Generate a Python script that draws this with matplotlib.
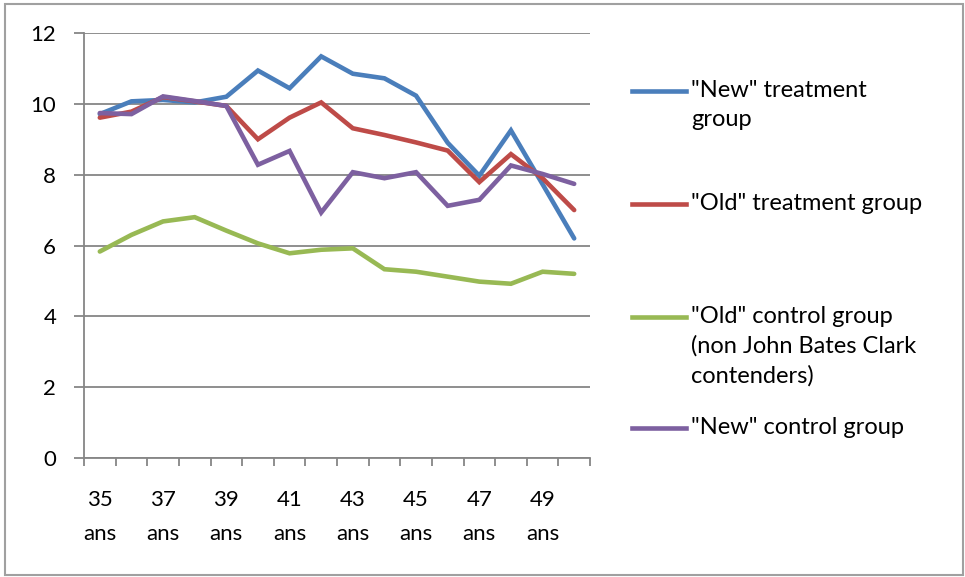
import matplotlib
matplotlib.use("Agg")
import matplotlib.pyplot as plt
from matplotlib.lines import Line2D
from matplotlib.patches import Rectangle
import numpy as np

plt.rcParams['font.family'] = ['Lato', 'DejaVu Sans']

ages = list(range(35, 51))
age_labels = ["%d\nans" % a for a in ages[::2]]

new_treatment = [9.71, 10.07, 10.11, 10.04, 10.2, 10.94, 10.44, 11.34,
                 10.85, 10.72, 10.23, 8.9, 7.97, 9.25, 7.73, 6.2]
old_treatment = [9.61, 9.78, 10.19, 10.07, 9.94, 9.0, 9.61, 10.04,
                 9.31, 9.12, 8.91, 8.68, 7.79, 8.58, 7.9, 7.0]
old_control = [5.83, 6.3, 6.68, 6.8, 6.42, 6.06, 5.78, 5.88,
               5.92, 5.33, 5.26, 5.12, 4.98, 4.92, 5.26, 5.2]
new_control = [9.74, 9.71, 10.21, 10.08, 9.94, 8.28, 8.67, 6.93,
               8.07, 7.9, 8.07, 7.12, 7.29, 8.26, 8.02, 7.74]

names = ['"New" treatment\ngroup',
         '"Old" treatment group',
         '"Old" control group\n(non John Bates Clark\ncontenders)',
         '"New" control group']
colors = ['#4a7ebb', '#be4b48', '#98b954', '#7d60a0']
series = [new_treatment, old_treatment, old_control, new_control]

W, H = 965, 577
fig = plt.figure(figsize=(W / 100, H / 100), dpi=100)
ax = fig.add_axes([84 / W, 1 - 458 / H, (590 - 84) / W, (458 - 33) / H])

x = np.arange(len(ages))
# draw order: green, blue, red, purple on top
for i in [2, 0, 1, 3]:
    ax.plot(x, series[i], color=colors[i], lw=3.3, solid_joinstyle='miter',
            solid_capstyle='round', zorder=3 + i)

ax.set_xlim(-0.5, len(ages) - 0.5)
ax.set_ylim(0, 12)
ax.set_yticks(np.arange(0, 13, 2))
ax.yaxis.grid(True, color='#868686', lw=1.3)
ax.set_axisbelow(True)

ax.set_xticks(np.arange(-0.5, len(ages), 1))
ax.set_xticklabels([])
ax.set_xticks(x[::2], minor=True)
ax.set_xticklabels(age_labels, minor=True, fontsize=16, linespacing=1.85)
ax.tick_params(axis='x', which='major', length=6, width=1.3, color='#868686')
ax.tick_params(axis='x', which='minor', length=0, pad=23)
ax.tick_params(axis='y', length=7, width=1.3, color='#868686', labelsize=16, pad=13)

for s in ['top', 'right']:
    ax.spines[s].set_visible(False)
for s in ['left', 'bottom']:
    ax.spines[s].set_color('#868686')
    ax.spines[s].set_linewidth(1.3)

# legend entries on the right
first_line_y = [91, 204, 317, 428]
for name, c, yy in zip(names, colors, first_line_y):
    fy = 1 - yy / H
    fig.add_artist(Line2D([632 / W, 686 / W], [fy, fy], color=c, lw=3.3,
                          transform=fig.transFigure))
    fig.text(691 / W, 1 - (yy - 11) / H, name, fontsize=17, va='top',
             ha='left', linespacing=1.47)

fig.add_artist(Rectangle((5 / W, 2 / H), (963 - 5) / W, (574 - 3) / H,
                         transform=fig.transFigure, fill=False,
                         edgecolor='#a0a0a0', lw=1.5))

fig.savefig("out.png", dpi=100)
